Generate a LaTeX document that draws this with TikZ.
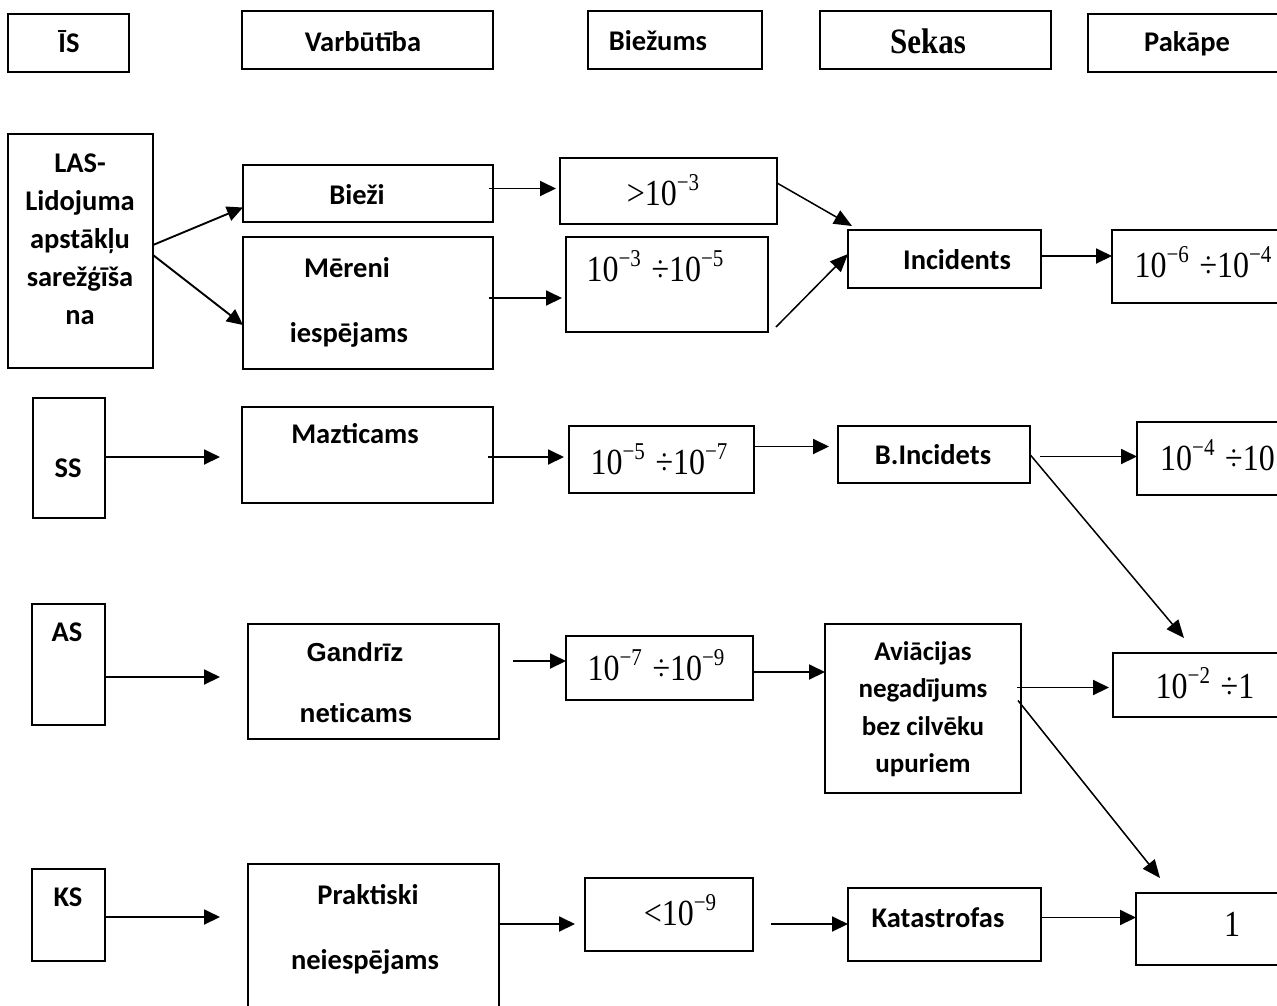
\documentclass[tikz,border=0pt]{standalone}
\usepackage{fontspec}
\usetikzlibrary{arrows.meta,calc}
\newfontfamily\calfont{Carlito}
\newfontfamily\arifont{Liberation Sans}
\newfontfamily\tnrfont{Liberation Serif}
% power of ten with a negative exponent, set like an equation in Times
\newcommand\tpow[2]{#1\raisebox{0.42em}{\fontsize{21}{21}\selectfont −#2}}
% Times text, slightly tall
\newcommand\tall[1]{\scalebox{1}[1.15]{#1}}
% rectangle given by its top-left and bottom-right corners
\newcommand\mkbox[5]{\node[box, minimum width={(#4)-(#2)}, minimum height={(#5)-(#3)}] (#1) at (#2,#3) {};}
\begin{document}
\begin{tikzpicture}[x=1pt,y=-1pt,
  box/.style={draw, line width=2pt, rectangle, inner sep=0pt, outer sep=0pt, anchor=north west},
  lbl/.style={font=\calfont\bfseries\fontsize{28.5}{38}\selectfont, align=center, inner sep=0pt},
  albl/.style={font=\arifont\bfseries\fontsize{26}{30}\selectfont, inner sep=0pt},
  slbl/.style={font=\tnrfont\bfseries\fontsize{31}{31}\selectfont, inner sep=0pt},
  num/.style={font=\tnrfont\fontsize{32}{32}\selectfont, inner sep=0pt},
  arr/.style={line width=1.9pt, -{Triangle[length=16pt,width=15pt]}},
  darr/.style={line width=1.5pt, -{Triangle[length=18pt,width=15pt]}}]
\useasboundingbox (0,0) rectangle (1277,1005);
\clip (0,0) rectangle (1277,1005);

% header row
\mkbox{is}{8}{14}{129}{72}
\mkbox{var}{242}{11}{493}{69}
\mkbox{bie}{588}{11}{762}{69}
\mkbox{sek}{820}{11}{1051}{69}
\mkbox{pak}{1088}{14}{1310}{72}
\node[lbl] (tis)  at (69,42)   {ĪS};
\node[lbl] (tvar) at (363,42)  {Varbūtība};
\node[lbl] (tbie) at (658,41)  {Biežums};
\node[slbl] (tsek) at (928,41) {\tall{Sekas}};
\node[lbl] (tpak) at (1187,44) {Pakāpe};

% LAS row
\mkbox{las}{8}{134}{153}{368}
\mkbox{biezi}{243}{165}{493}{222}
\mkbox{mer}{243}{237}{493}{369}
\mkbox{gt3}{560}{158}{777}{224}
\mkbox{r35}{566}{237}{768}{332}
\mkbox{inc}{848}{230}{1041}{288}
\mkbox{r64}{1112}{230}{1310}{303}
\node[lbl] (tlas) at (80,239) {LAS-\\Lidojuma\\apstākļu\\sarežģīša\\na};
\node[lbl] (tbiezi) at (357,195) {Bieži};
\node[lbl] (tmer1) at (347,268) {Mēreni};
\node[lbl] (tmer2) at (349,335) {iespējams};
\node[num] (tgt3) at (663,190) {\tall{>\tpow{10}{3}}};
\node[num] (tr35) at (655,266) {\tall{\tpow{10}{3}\,\,÷\tpow{10}{5}}};
\node[lbl] (tinc) at (957,260) {Incidents};
\node[num] (tr64) at (1203,262) {\tall{\tpow{10}{6}\,\,÷\tpow{10}{4}}};

\draw[arr] ([yshift=6pt]las.east) -- ([yshift=-14pt]biezi.west);
\draw[arr] ([yshift=-4pt]las.east) -- ([yshift=-22pt]mer.west);
\draw[arr] ([xshift=-4pt,yshift=5pt]biezi.east) -- ([xshift=-4pt,yshift=5pt]biezi.east -| gt3.west);
\draw[arr] ([xshift=-4pt,yshift=5pt]mer.east) -- ([xshift=-4pt,yshift=5pt]mer.east -| r35.west);
\coordinate (inctip1) at (852,226);
\coordinate (inctip2) at (848,254);
\draw[darr] ([yshift=8pt]gt3.east) -- (inctip1);
\draw[darr] ([xshift=8pt,yshift=5pt]r35.south east) -- (inctip2);
\draw[arr] ([yshift=3pt]inc.east) -- ([yshift=3pt]inc.east -| r64.west);

% SS row
\mkbox{ss}{33}{398}{105}{518}
\mkbox{maz}{242}{407}{493}{503}
\mkbox{r57}{569}{426}{754}{493}
\mkbox{binc}{838}{426}{1030}{483}
\mkbox{r42}{1137}{422}{1310}{495}
\node[lbl] (tss) at (68,468) {SS};
\node[lbl] (tmaz) at (355,434) {Mazticams};
\node[num] (tr57) at (659,459) {\tall{\tpow{10}{5}\,\,÷\tpow{10}{7}}};
\node[lbl] (tbinc) at (933,455) {B.Incidets};
\node[num, anchor=west] (tr42) at (1160,455) {\tall{\tpow{10}{4}\,\,÷10}};

\coordinate (mazgap) at (220,457);
\draw[arr] (ss.east |- mazgap) -- (mazgap);
\draw[arr] ([xshift=-5pt,yshift=-2pt]maz.east) -- ([xshift=-5pt,yshift=-2pt]maz.east -| r57.west);
\draw[arr, shorten >=9pt] ([yshift=13pt]r57.east) -- ([yshift=13pt]r57.east -| binc.west);
\draw[arr, shorten <=10pt] ([yshift=-2pt]binc.east) -- ([yshift=-2pt]binc.east -| r42.west);
\coordinate (r21tip) at (1184,638);
\draw[darr] (binc.east) -- (r21tip);

% AS row
\mkbox{as}{32}{604}{105}{725}
\mkbox{gan}{248}{624}{499}{739}
\mkbox{r79}{566}{636}{753}{700}
\mkbox{avi}{825}{624}{1021}{793}
\mkbox{r21}{1113}{653}{1310}{717}
\node[lbl] (tas) at (67,632) {AS};
\node[albl] (tgan1) at (355,652) {Gandrīz};
\node[albl] (tgan2) at (356,713) {neticams};
\node[num] (tr79) at (656,665) {\tall{\tpow{10}{7}\,\,÷\tpow{10}{9}}};
\node[lbl, font=\calfont\bfseries\fontsize{27}{37.5}\selectfont] (tavi) at (923,709) {Aviācijas\\negadījums\\bez cilvēku\\upuriem};
\node[num] (tr21) at (1205,683) {\tall{\tpow{10}{2}\,\,÷1}};

\coordinate (gangap) at (220,677);
\draw[arr] (as.east |- gangap) -- (gangap);
\coordinate (r79in) at (513,661);
\draw[arr] (r79in) -- (r79in -| r79.west);
\draw[arr] ([yshift=-4pt]r79.east) -- ([yshift=-4pt]r79.east -| avi.west);
\draw[arr] ([xshift=-4pt,yshift=21pt]avi.east) -- ([xshift=-4pt,yshift=21pt]avi.east -| r21.west);
\coordinate (onetip) at (1160,878);
\draw[darr] ([xshift=-3pt,yshift=8pt]avi.east) -- (onetip);

% KS row
\mkbox{ks}{32}{869}{105}{961}
\mkbox{pra}{248}{864}{499}{1030}
\mkbox{lt9}{585}{878}{753}{951}
\mkbox{kat}{848}{888}{1041}{961}
\mkbox{one}{1136}{893}{1310}{965}
\node[lbl] (tks) at (68,897) {KS};
\node[lbl] (tpra1) at (368,895) {Praktiski};
\node[lbl] (tpra2) at (365,962) {neiespējams};
\node[num] (tlt9) at (680,910) {\tall{<\tpow{10}{9}}};
\node[lbl] (tkat) at (938,918) {Katastrofas};
\node[num] (tone) at (1232,924) {\tall{1}};

\coordinate (pragap) at (220,917);
\draw[arr] (ks.east |- pragap) -- (pragap);
\coordinate (lt9in) at (499,924);
\draw[arr, shorten >=10pt] (lt9in) -- (lt9in -| lt9.west);
\coordinate (katin) at (771,924);
\draw[arr] (katin) -- (katin -| kat.west);
\draw[arr] ([yshift=7pt]kat.east) -- ([yshift=7pt]kat.east -| one.west);
\end{tikzpicture}
\end{document}
